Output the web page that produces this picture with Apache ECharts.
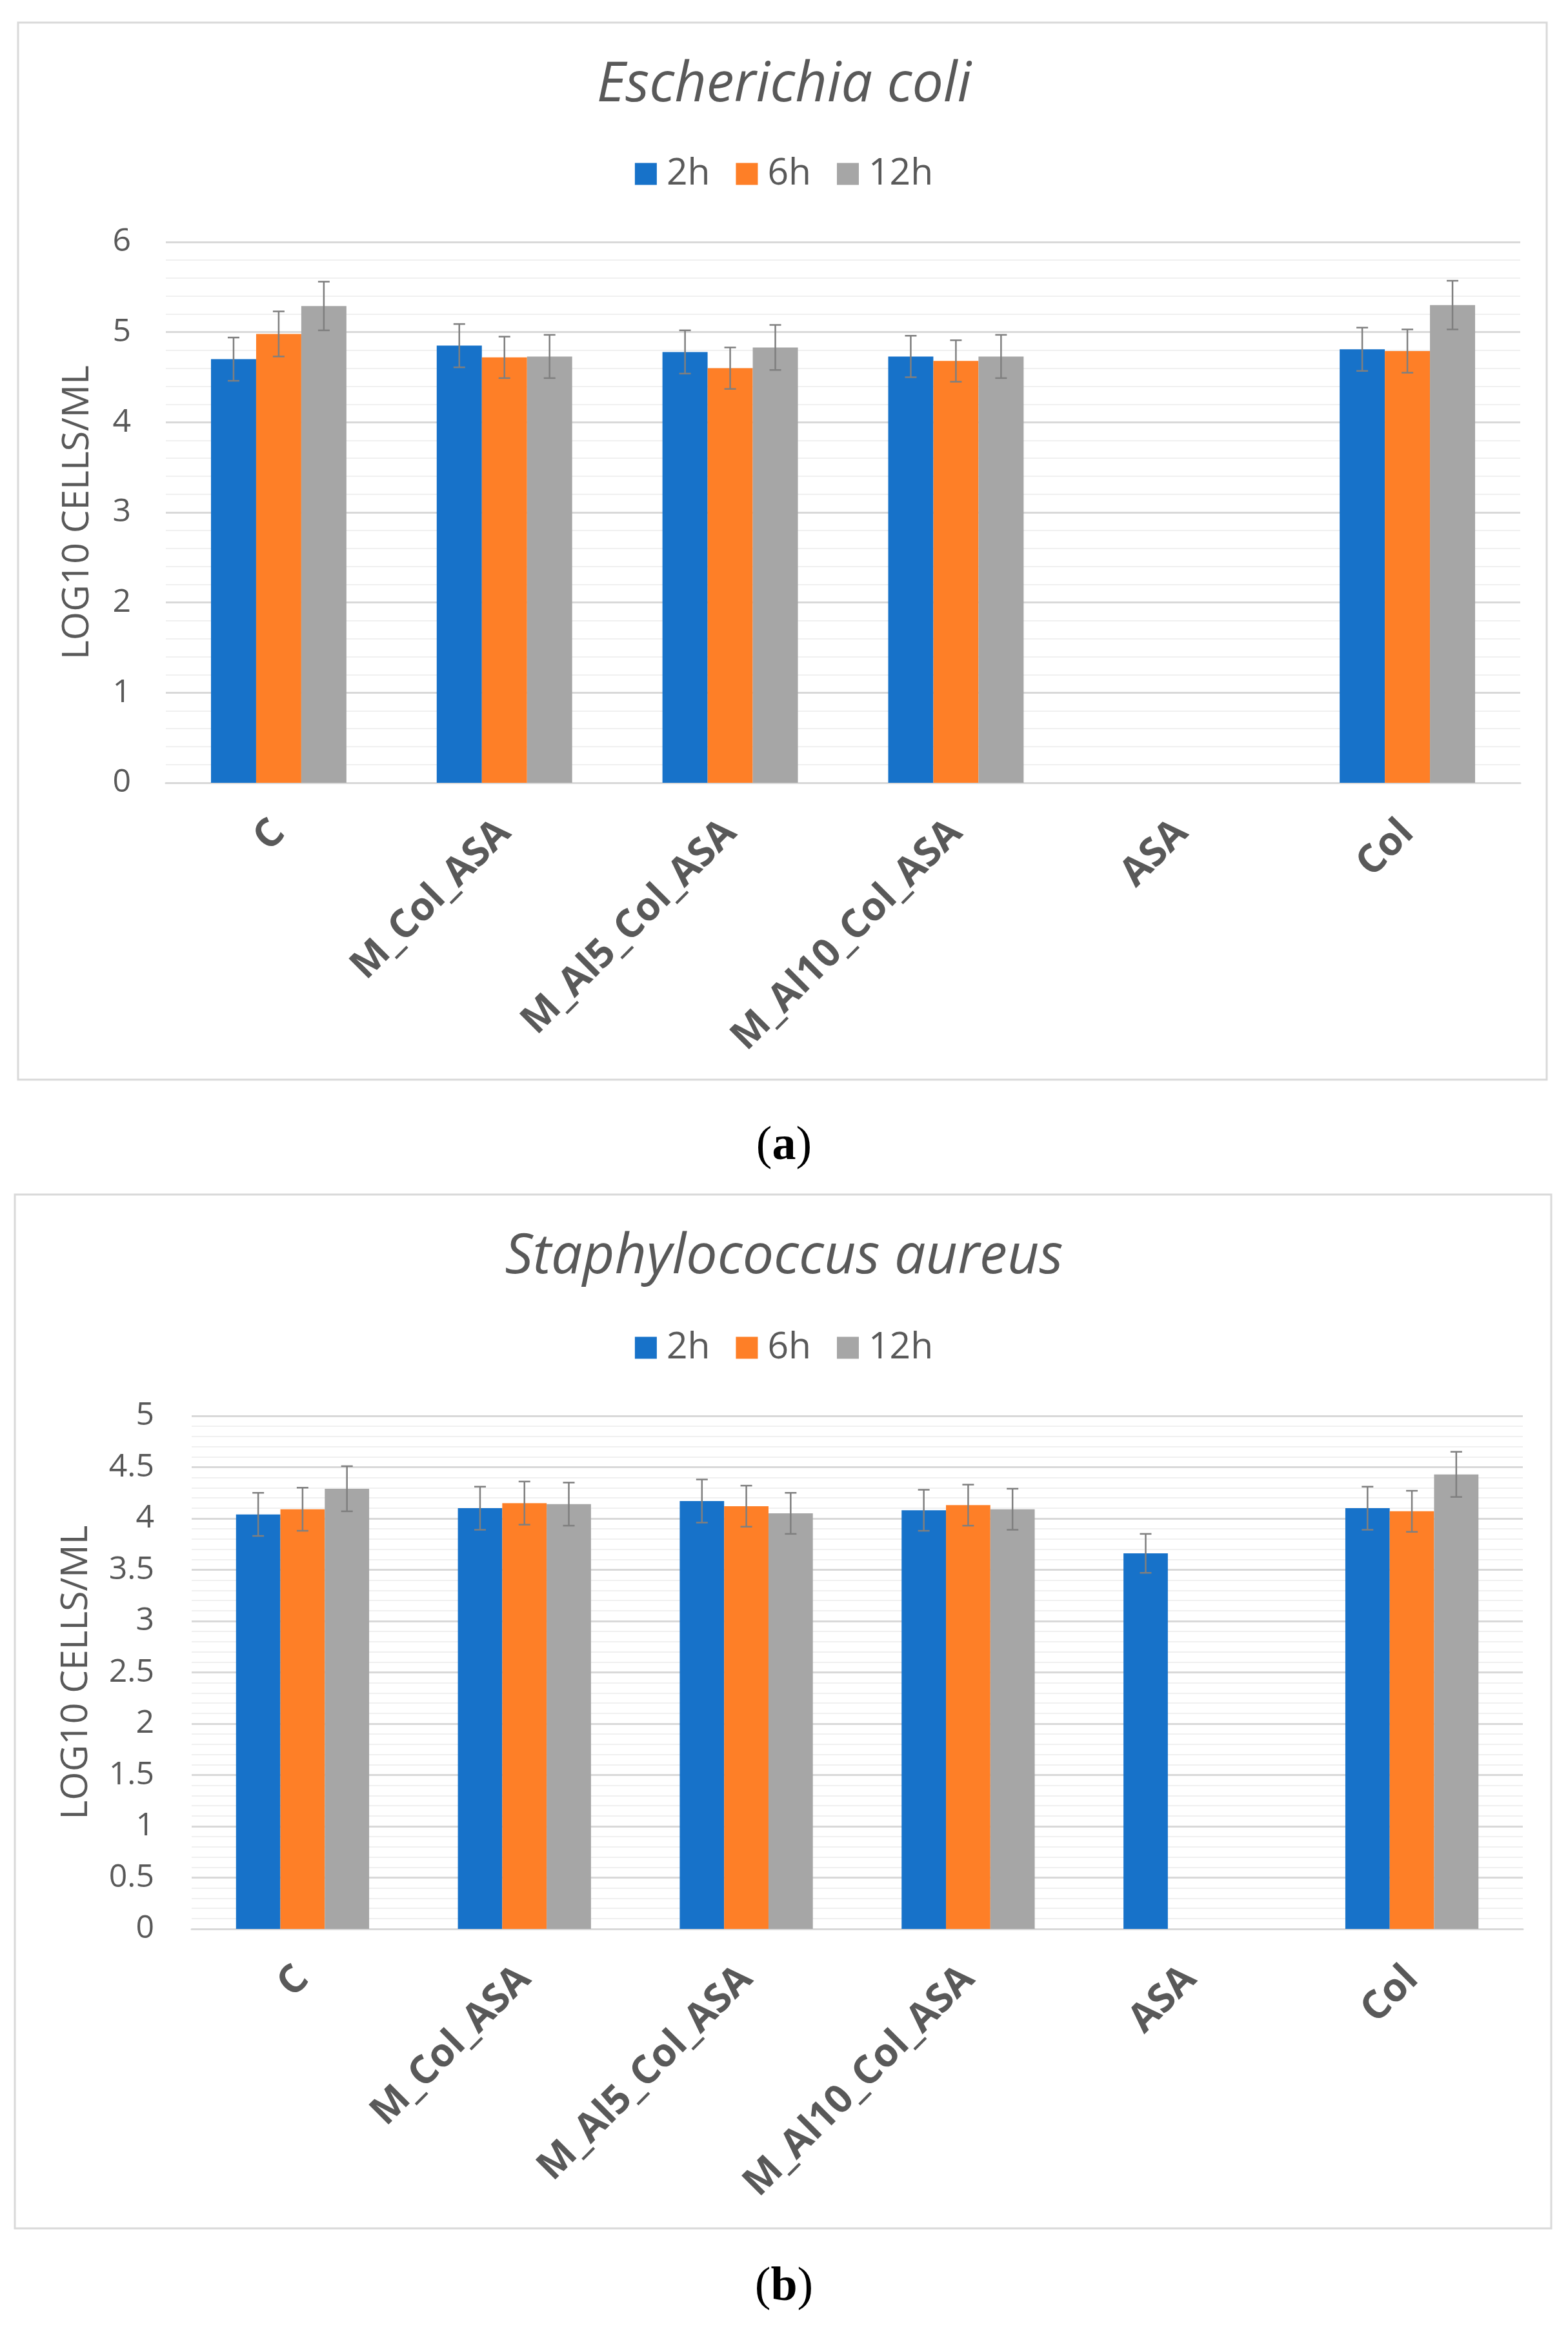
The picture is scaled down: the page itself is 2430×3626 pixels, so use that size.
<!DOCTYPE html>
<html>
<head>
<meta charset="utf-8">
<script src="https://cdn.jsdelivr.net/npm/echarts@6/dist/echarts.min.js"></script>
<style>
html,body{margin:0;padding:0;background:#fff;}
#main{width:2430px;height:3626px;}
</style>
</head>
<body>
<div id="main"></div>
<script>
// ---- data ----
var categories = ['C', 'M_Col_ASA', 'M_Al5_Col_ASA', 'M_Al10_Col_ASA', 'ASA', 'Col'];
var seriesNames = ['2h', '6h', '12h'];

var ecoli2h  = [4.70, 4.85, 4.78, 4.73, null, 4.81];
var ecoli6h  = [4.98, 4.72, 4.60, 4.68, null, 4.79];
var ecoli12h = [5.29, 4.73, 4.83, 4.73, null, 5.30];
var ecoliErr2h  = [0.24, 0.24, 0.24, 0.23, null, 0.24];
var ecoliErr6h  = [0.25, 0.23, 0.23, 0.23, null, 0.24];
var ecoliErr12h = [0.27, 0.24, 0.25, 0.24, null, 0.27];

var saureus2h  = [4.04, 4.10, 4.17, 4.08, 3.66, 4.10];
var saureus6h  = [4.09, 4.15, 4.12, 4.13, null, 4.07];
var saureus12h = [4.29, 4.14, 4.05, 4.09, null, 4.43];
var saureusErr2h  = [0.21, 0.21, 0.21, 0.20, 0.19, 0.21];
var saureusErr6h  = [0.21, 0.21, 0.20, 0.20, null, 0.20];
var saureusErr12h = [0.22, 0.21, 0.20, 0.20, null, 0.22];

var ecoliTicksMax = 6, ecoliTickStep = 1;
var saureusTicksMax = 5, saureusTickStep = 0.5;

// ---- style ----
var colors = ['#1772C9', '#FE7F27', '#A6A6A6'];
var textColor = '#595959';
var font = 'Open Sans';
var GAP = 0.4; // barCategoryGap fraction

var chart = echarts.init(document.getElementById('main'), null, {renderer: 'canvas'});

function errSeries(name, vals, errs, k, axisIdx) {
  var data = [];
  for (var i = 0; i < vals.length; i++) {
    if (vals[i] != null && errs[i] != null) data.push([i, vals[i], errs[i]]);
  }
  return {
    type: 'custom',
    name: name + ' err',
    xAxisIndex: axisIdx, yAxisIndex: axisIdx,
    z: 5,
    silent: true,
    data: data,
    renderItem: function (params, api) {
      var xi = api.value(0), v = api.value(1), e = api.value(2);
      var catW = api.size([1, 0])[0];
      var barW = catW * (1 - GAP) / 3;
      var c = api.coord([xi, v]);
      var x = c[0] + (k - 1) * barW;
      var top = api.coord([xi, v + e])[1];
      var bot = api.coord([xi, v - e])[1];
      var cap = 9;
      var st = {stroke: '#7F7F7F', lineWidth: 2.5};
      return {
        type: 'group',
        children: [
          {type: 'line', shape: {x1: x, y1: top, x2: x, y2: bot}, style: st},
          {type: 'line', shape: {x1: x - cap, y1: top, x2: x + cap, y2: top}, style: st},
          {type: 'line', shape: {x1: x - cap, y1: bot, x2: x + cap, y2: bot}, style: st}
        ]
      };
    }
  };
}

function barSeries(name, vals, k, axisIdx) {
  return {
    type: 'bar', name: name,
    xAxisIndex: axisIdx, yAxisIndex: axisIdx,
    data: vals,
    barGap: '0%', barCategoryGap: (GAP * 100) + '%',
    itemStyle: {color: colors[k]},
    emphasis: {disabled: true}
  };
}

function xAxisDef(gridIndex) {
  return {
    type: 'category', gridIndex: gridIndex, data: categories,
    axisLine: {show: true, lineStyle: {color: '#D9D9D9', width: 3}},
    axisTick: {show: false},
    axisLabel: {
      interval: 0, rotate: 45, margin: 68,
      fontFamily: font, fontWeight: 'bold', fontSize: 61, color: textColor
    }
  };
}

function yAxisDef(gridIndex, max, step, margin, nameGap) {
  return {
    type: 'value', gridIndex: gridIndex, min: 0, max: max, interval: step,
    name: 'LOG10 CELLS/ML', nameLocation: 'middle', nameGap: nameGap,
    nameTextStyle: {fontFamily: font, fontSize: 57, color: textColor},
    axisLine: {show: false}, axisTick: {show: false},
    axisLabel: {fontFamily: font, fontSize: 50, color: textColor, margin: margin},
    splitLine: {show: true, lineStyle: {color: '#D9D9D9', width: 3}},
    minorTick: {show: false, splitNumber: 5},
    minorSplitLine: {show: true, lineStyle: {color: '#F0F0F0', width: 2}}
  };
}

var legendText = {fontFamily: font, fontSize: 57, color: textColor, padding: [0, 0, 0, 10]};
var captionRich = {
  p: {fontFamily: 'Liberation Serif', fontWeight: 'normal', fontSize: 74, color: '#000'},
  b: {fontFamily: 'Liberation Serif', fontWeight: 'bold', fontSize: 74, color: '#000'}
};

var option = {
  backgroundColor: '#ffffff',
  animation: false,
  color: colors,
  title: [
    {text: 'Escherichia coli', left: 'center', top: 84,
     textStyle: {fontFamily: font, fontStyle: 'italic', fontWeight: 'normal', fontSize: 86, color: textColor}},
    {text: 'Staphylococcus aureus', left: 'center', top: 1900,
     textStyle: {fontFamily: font, fontStyle: 'italic', fontWeight: 'normal', fontSize: 86, color: textColor}},
    {text: '{p|(}{b|a}{p|)}', left: 'center', top: 1735,
     textStyle: {rich: captionRich}},
    {text: '{p|(}{b|b}{p|)}', left: 'center', top: 3503,
     textStyle: {rich: captionRich}}
  ],
  legend: [
    {data: seriesNames, top: 236, left: 'center', icon: 'rect', itemWidth: 34, itemHeight: 34, itemGap: 40,
     textStyle: legendText},
    {data: seriesNames, top: 2055, left: 'center', icon: 'rect', itemWidth: 34, itemHeight: 34, itemGap: 40,
     textStyle: legendText}
  ],
  grid: [
    {left: 257, top: 375, width: 2099, height: 838},
    {left: 297, top: 2194, width: 2063, height: 795}
  ],
  xAxis: [xAxisDef(0), xAxisDef(1)],
  yAxis: [
    yAxisDef(0, ecoliTicksMax, ecoliTickStep, 54, 108),
    yAxisDef(1, saureusTicksMax, saureusTickStep, 58, 150)
  ],
  graphic: [
    {type: 'rect', shape: {x: 28, y: 35, width: 2369, height: 1638}, style: {fill: 'none', stroke: '#D9D9D9', lineWidth: 3}, z: -1},
    {type: 'rect', shape: {x: 23, y: 1851, width: 2381, height: 1602}, style: {fill: 'none', stroke: '#D9D9D9', lineWidth: 3}, z: -1}
  ],
  series: [
    barSeries('2h', ecoli2h, 0, 0),
    barSeries('6h', ecoli6h, 1, 0),
    barSeries('12h', ecoli12h, 2, 0),
    barSeries('2h', saureus2h, 0, 1),
    barSeries('6h', saureus6h, 1, 1),
    barSeries('12h', saureus12h, 2, 1),
    errSeries('2h', ecoli2h, ecoliErr2h, 0, 0),
    errSeries('6h', ecoli6h, ecoliErr6h, 1, 0),
    errSeries('12h', ecoli12h, ecoliErr12h, 2, 0),
    errSeries('2h', saureus2h, saureusErr2h, 0, 1),
    errSeries('6h', saureus6h, saureusErr6h, 1, 1),
    errSeries('12h', saureus12h, saureusErr12h, 2, 1)
  ]
};
chart.setOption(option);
</script>
</body>
</html>
